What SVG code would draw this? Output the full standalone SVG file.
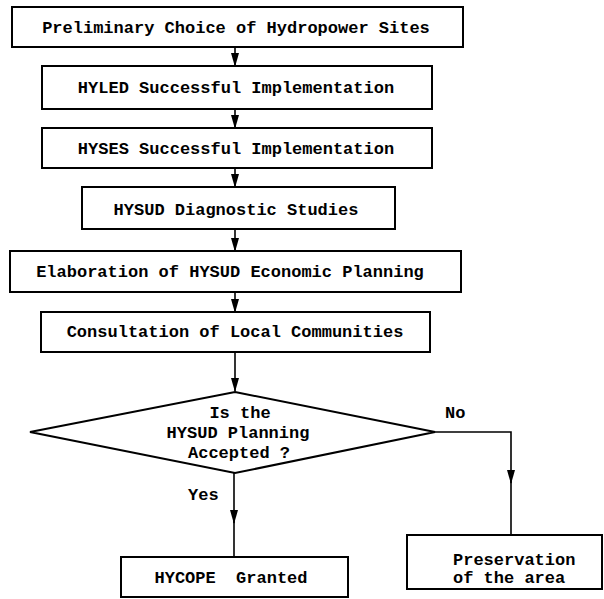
<svg xmlns="http://www.w3.org/2000/svg" width="604" height="599" viewBox="0 0 604 599">
<style>
.box{fill:#fff;stroke:#000;stroke-width:2}
.t{font-family:"Liberation Mono","DejaVu Sans Mono",monospace;font-weight:bold;font-size:17px;fill:#000}
.c{text-anchor:middle}
.ln{fill:none;stroke:#000;stroke-width:1.6}
</style>
<defs>
<marker id="a" markerWidth="14" markerHeight="8" refX="13" refY="4" orient="auto" markerUnits="userSpaceOnUse">
<path d="M0,0 L14,4 L0,8 Z" fill="#000"/>
</marker>
</defs>
<rect width="604" height="599" fill="#fff"/>
<g id="connectors">
<line class="ln" x1="235" y1="47" x2="235" y2="66" marker-end="url(#a)"/>
<line class="ln" x1="235" y1="109" x2="235" y2="128" marker-end="url(#a)"/>
<line class="ln" x1="235" y1="168" x2="235" y2="187" marker-end="url(#a)"/>
<line class="ln" x1="235" y1="229" x2="235" y2="251" marker-end="url(#a)"/>
<line class="ln" x1="235" y1="292" x2="235" y2="312" marker-end="url(#a)"/>
<line class="ln" x1="235" y1="352" x2="235" y2="391" marker-end="url(#a)"/>
<line class="ln" x1="234" y1="473" x2="234" y2="523" marker-end="url(#a)"/>
<line class="ln" x1="234" y1="520" x2="234" y2="557"/>
<polyline class="ln" points="435,432 511,432 511,483" marker-end="url(#a)"/>
<line class="ln" x1="511" y1="480" x2="511" y2="535"/>
</g>
<g id="n1"><rect class="box" x="12" y="7" width="451" height="40"/><text class="t c" x="236" y="33">Preliminary Choice of Hydropower Sites</text></g>
<g id="n2"><rect class="box" x="42" y="66" width="390" height="43"/><text class="t c" x="236" y="93">HYLED Successful Implementation</text></g>
<g id="n3"><rect class="box" x="42" y="128" width="390" height="40"/><text class="t c" x="236" y="154">HYSES Successful Implementation</text></g>
<g id="n4"><rect class="box" x="82" y="187" width="313" height="42"/><text class="t c" x="236" y="215">HYSUD Diagnostic Studies</text></g>
<g id="n5"><rect class="box" x="10" y="251" width="451" height="41"/><text class="t c" x="230" y="277">Elaboration of HYSUD Economic Planning</text></g>
<g id="n6"><rect class="box" x="41" y="312" width="389" height="40"/><text class="t c" x="235" y="337">Consultation of Local Communities</text></g>
<g id="n7"><polygon class="box" points="235,392 435,432 235,473 30,432"/>
<text class="t c" x="240" y="418">Is the</text>
<text class="t c" x="238" y="438">HYSUD Planning</text>
<text class="t c" x="239" y="458">Accepted ?</text></g>
<text class="t" x="188" y="500">Yes</text>
<text class="t" x="445" y="418">No</text>
<g id="n8"><rect class="box" x="121" y="557" width="227" height="40"/><text class="t c" x="231" y="583" xml:space="preserve">HYCOPE  Granted</text></g>
<g id="n9"><rect class="box" x="407" y="535" width="195" height="54"/><text class="t" x="453" y="565">Preservation</text><text class="t" x="453" y="583">of the area</text></g>
</svg>
